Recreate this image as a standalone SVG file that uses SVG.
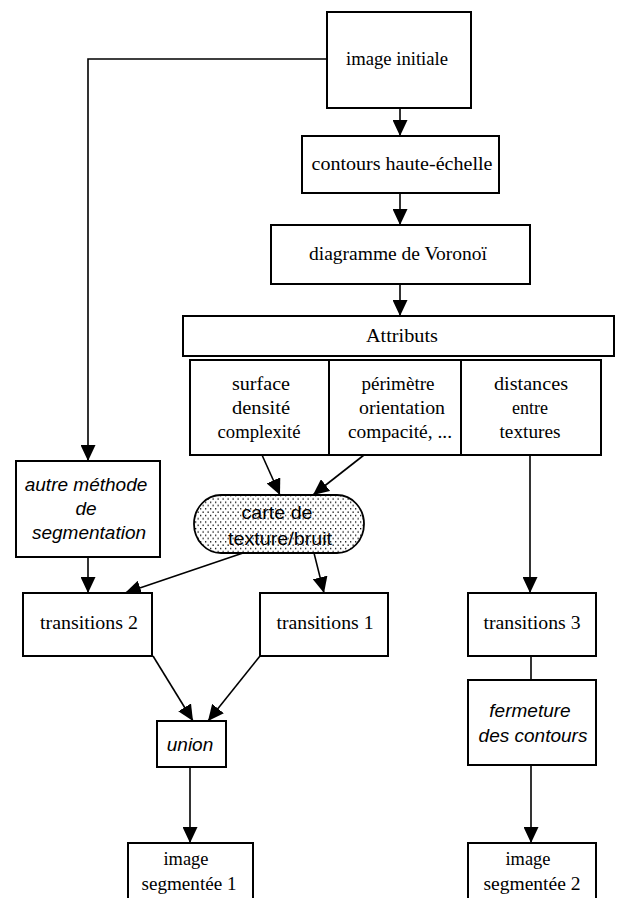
<svg xmlns="http://www.w3.org/2000/svg" width="617" height="898" viewBox="0 0 617 898">
<style>
.box{fill:#fff;stroke:#000;stroke-width:2}
.t{font-family:"Liberation Serif","Times New Roman",serif;font-size:19px;fill:#000;text-anchor:middle}
.s{font-family:"Liberation Sans",Arial,sans-serif;font-size:19px;font-style:italic;fill:#000;text-anchor:middle}
.sr{font-family:"Liberation Sans",Arial,sans-serif;font-size:19px;fill:#000;text-anchor:middle}
.c{fill:none;stroke:#000;stroke-width:1.6}
</style>
<defs>
<marker id="ah" markerUnits="userSpaceOnUse" viewBox="0 0 16 15" markerWidth="16" markerHeight="15" refX="16" refY="7.5" orient="auto">
<path d="M0,0 L16,7.5 L0,15 z" fill="#000"/>
</marker>
<pattern id="dots" patternUnits="userSpaceOnUse" width="5" height="6.6">
<rect x="0" y="0" width="1.3" height="1.3" fill="#000"/>
<rect x="2.5" y="3.3" width="1.3" height="1.3" fill="#000"/>
</pattern>
</defs>
<rect width="617" height="898" fill="#fff"/>

<g id="connectors">
<polyline class="c" points="327,59 88,59 88,461" marker-end="url(#ah)"/>
<line class="c" x1="400" y1="108" x2="400" y2="136" marker-end="url(#ah)"/>
<line class="c" x1="400" y1="193" x2="400" y2="225" marker-end="url(#ah)"/>
<line class="c" x1="400" y1="284" x2="400" y2="316" marker-end="url(#ah)"/>
<line class="c" x1="262" y1="455" x2="280" y2="495" marker-end="url(#ah)"/>
<line class="c" x1="364" y1="455" x2="313" y2="495" marker-end="url(#ah)"/>
<line class="c" x1="88" y1="557" x2="88" y2="593" marker-end="url(#ah)"/>
<line class="c" x1="243" y1="553" x2="125" y2="593" marker-end="url(#ah)"/>
<line class="c" x1="314" y1="553" x2="324" y2="593" marker-end="url(#ah)"/>
<line class="c" x1="530" y1="454" x2="530" y2="593" marker-end="url(#ah)"/>
<line class="c" x1="153" y1="656" x2="193" y2="721" marker-end="url(#ah)"/>
<line class="c" x1="260" y1="656" x2="208" y2="721" marker-end="url(#ah)"/>
<line class="c" x1="190" y1="767" x2="190" y2="843" marker-end="url(#ah)"/>
<line class="c" x1="531" y1="656" x2="531" y2="680"/>
<line class="c" x1="531" y1="765" x2="531" y2="843" marker-end="url(#ah)"/>
</g>

<g id="image-initiale">
<rect class="box" x="327" y="12" width="144" height="96"/>
<text class="t" x="397" y="65" textLength="102" lengthAdjust="spacingAndGlyphs">image initiale</text>
</g>
<g id="contours">
<rect class="box" x="302" y="136" width="197" height="57"/>
<text class="t" x="402" y="170" textLength="181" lengthAdjust="spacingAndGlyphs">contours haute-échelle</text>
</g>
<g id="voronoi">
<rect class="box" x="271" y="225" width="259" height="59"/>
<text class="t" x="398" y="260" textLength="178" lengthAdjust="spacingAndGlyphs">diagramme de Voronoï</text>
</g>
<g id="attributs">
<rect class="box" x="183" y="316" width="431" height="40"/>
<text class="t" x="402" y="342" textLength="72" lengthAdjust="spacingAndGlyphs">Attributs</text>
</g>
<g id="attr-surface">
<rect class="box" x="190" y="360" width="139" height="95"/>
<text class="t" x="261" y="390" textLength="58" lengthAdjust="spacingAndGlyphs">surface</text>
<text class="t" x="261" y="414" textLength="58" lengthAdjust="spacingAndGlyphs">densité</text>
<text class="t" x="259" y="438" textLength="83" lengthAdjust="spacingAndGlyphs">complexité</text>
</g>
<g id="attr-perimetre">
<rect class="box" x="329" y="360" width="132" height="95"/>
<text class="t" x="398" y="390" textLength="73" lengthAdjust="spacingAndGlyphs">périmètre</text>
<text class="t" x="402" y="414" textLength="86" lengthAdjust="spacingAndGlyphs">orientation</text>
<text class="t" x="400" y="438" textLength="104" lengthAdjust="spacingAndGlyphs">compacité, ...</text>
</g>
<g id="attr-distances">
<rect class="box" x="461" y="360" width="140" height="95"/>
<text class="t" x="531" y="390" textLength="74" lengthAdjust="spacingAndGlyphs">distances</text>
<text class="t" x="530" y="414" textLength="36" lengthAdjust="spacingAndGlyphs">entre</text>
<text class="t" x="530" y="438" textLength="61" lengthAdjust="spacingAndGlyphs">textures</text>
</g>
<g id="autre-methode">
<rect class="box" x="16" y="461" width="144" height="96"/>
<text class="s" x="86" y="491">autre méthode</text>
<text class="s" x="86" y="515">de</text>
<text class="s" x="89" y="539">segmentation</text>
</g>
<g id="carte">
<rect x="194" y="495" width="170" height="58" rx="27" ry="29" fill="url(#dots)" stroke="#000" stroke-width="1.8"/>
<text class="sr" x="277" y="519" textLength="71" lengthAdjust="spacingAndGlyphs">carte de</text>
<text class="sr" x="280" y="545" textLength="104" lengthAdjust="spacingAndGlyphs">texture/bruit</text>
</g>
<g id="transitions-2">
<rect class="box" x="23" y="593" width="129" height="63"/>
<text class="t" x="89" y="629" textLength="98" lengthAdjust="spacingAndGlyphs">transitions 2</text>
</g>
<g id="transitions-1">
<rect class="box" x="260" y="593" width="128" height="63"/>
<text class="t" x="325" y="629" textLength="97" lengthAdjust="spacingAndGlyphs">transitions 1</text>
</g>
<g id="transitions-3">
<rect class="box" x="468" y="593" width="128" height="63"/>
<text class="t" x="532" y="629" textLength="97" lengthAdjust="spacingAndGlyphs">transitions 3</text>
</g>
<g id="union">
<rect class="box" x="157" y="721" width="69" height="46"/>
<text class="s" x="190" y="751">union</text>
</g>
<g id="fermeture">
<rect class="box" x="468" y="680" width="128" height="85"/>
<text class="s" x="530" y="717">fermeture</text>
<text class="s" x="533" y="742">des contours</text>
</g>
<g id="image-segmentee-1">
<rect class="box" x="128" y="843" width="125" height="60"/>
<text class="t" x="186" y="865" textLength="45" lengthAdjust="spacingAndGlyphs">image</text>
<text class="t" x="189" y="890" textLength="95" lengthAdjust="spacingAndGlyphs">segmentée 1</text>
</g>
<g id="image-segmentee-2">
<rect class="box" x="468" y="843" width="128" height="60"/>
<text class="t" x="528" y="865" textLength="45" lengthAdjust="spacingAndGlyphs">image</text>
<text class="t" x="532" y="890" textLength="97" lengthAdjust="spacingAndGlyphs">segmentée 2</text>
</g>
</svg>
